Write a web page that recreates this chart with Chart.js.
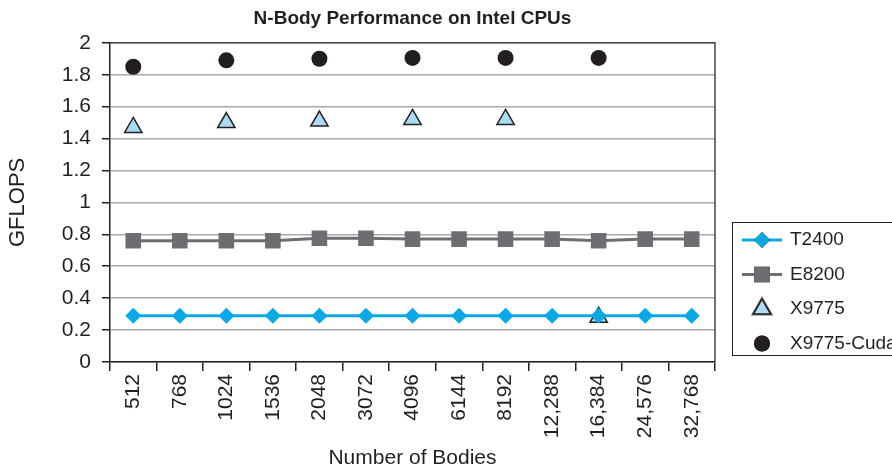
<!DOCTYPE html>
<html>
<head>
<meta charset="utf-8">
<script src="https://cdn.jsdelivr.net/npm/chart.js@4.4.0/dist/chart.umd.min.js"></script>
<style>
  html, body { margin: 0; padding: 0; background: #fff; }
  #wrap { width: 892px; height: 469px; }
</style>
</head>
<body>
<div id="wrap"><canvas id="chart" width="892" height="469"></canvas></div>
<script>
const bodies = ['512', '768', '1024', '1536', '2048', '3072', '4096', '6144', '8192', '12,288', '16,384', '24,576', '32,768'];
const t2400 = [0.29, 0.29, 0.29, 0.29, 0.29, 0.29, 0.29, 0.29, 0.29, 0.29, 0.29, 0.29, 0.29];
const e8200 = [0.76, 0.76, 0.76, 0.76, 0.775, 0.775, 0.77, 0.77, 0.77, 0.77, 0.76, 0.77, 0.77];
const x9775 = [1.47, null, 1.50, null, 1.51, null, 1.52, null, 1.52, null, 0.28, null, null];
const x9775Cuda = [1.85, null, 1.89, null, 1.90, null, 1.905, null, 1.905, null, 1.905, null, null];

const FONT = '"Liberation Sans", Arial, Helvetica, sans-serif';
const INK = '#231f20';

// boxed legend on the right, like the original
const boxLegend = {
  id: 'boxLegend',
  afterDraw(chart) {
    const ctx = chart.ctx;
    const area = chart.chartArea;
    const left = area.right + 17, top = 222, rowH = 34.5;
    ctx.save();
    ctx.strokeStyle = INK;
    ctx.lineWidth = 1;
    ctx.strokeRect(left + 0.5, top + 0.5, 220, 133);
    chart.data.datasets.forEach((ds, i) => {
      const y = top + 18 + i * rowH;
      const cx = left + 30;
      if (ds.showLine !== false) {
        ctx.strokeStyle = ds.borderColor;
        ctx.lineWidth = ds.borderWidth;
        ctx.beginPath();
        ctx.moveTo(left + 10, y);
        ctx.lineTo(left + 50, y);
        ctx.stroke();
      }
      Chart.helpers.drawPoint(ctx, {
        pointStyle: ds.pointStyle,
        radius: ds.pointRadius,
        borderWidth: ds.pointBorderWidth,
        rotation: 0
      }, cx, y);
      ctx.fillStyle = ds.pointBackgroundColor;
      ctx.strokeStyle = ds.pointBorderColor;
      ctx.lineWidth = ds.pointBorderWidth;
      ctx.fill();
      if (ds.pointBorderWidth > 0) ctx.stroke();
      ctx.fillStyle = INK;
      ctx.font = '19px ' + FONT;
      ctx.textBaseline = 'middle';
      ctx.textAlign = 'left';
      ctx.fillText(ds.label, left + 58, y);
    });
    // top and right frame of the plot area
    ctx.strokeStyle = '#444';
    ctx.lineWidth = 1.5;
    ctx.beginPath();
    ctx.moveTo(area.left, area.top);
    ctx.lineTo(area.right, area.top);
    ctx.lineTo(area.right, area.bottom);
    ctx.stroke();
    ctx.restore();
  }
};

new Chart(document.getElementById('chart'), {
  type: 'line',
  data: {
    labels: bodies,
    datasets: [
      {
        label: 'T2400', data: t2400,
        borderColor: '#0aa8e4', borderWidth: 3,
        pointStyle: 'rectRot', pointRadius: 8,
        pointBackgroundColor: '#0aa8e4', pointBorderColor: '#0aa8e4', pointBorderWidth: 0
      },
      {
        label: 'E8200', data: e8200,
        borderColor: '#6d6e71', borderWidth: 3,
        pointStyle: 'rect', pointRadius: 11,
        pointBackgroundColor: '#6d6e71', pointBorderColor: '#6d6e71', pointBorderWidth: 0
      },
      {
        label: 'X9775', data: x9775, showLine: false,
        borderColor: INK,
        pointStyle: 'triangle', pointRadius: 10,
        pointBackgroundColor: '#a8dcf3', pointBorderColor: INK, pointBorderWidth: 1.5
      },
      {
        label: 'X9775-Cuda', data: x9775Cuda, showLine: false,
        borderColor: INK,
        pointStyle: 'circle', pointRadius: 8,
        pointBackgroundColor: INK, pointBorderColor: INK, pointBorderWidth: 0
      }
    ]
  },
  options: {
    responsive: false,
    animation: false,
    spanGaps: false,
    layout: { padding: { left: 0, right: 177, top: 0, bottom: 0 } },
    plugins: {
      legend: { display: false },
      tooltip: { enabled: false },
      title: {
        display: true,
        fullSize: false,
        text: 'N-Body Performance on Intel CPUs',
        color: INK,
        font: { family: FONT, size: 19, weight: 'bold' },
        padding: { top: 7, bottom: 13 }
      }
    },
    scales: {
      x: {
        offset: true,
        grid: { offset: true, drawOnChartArea: false, drawTicks: true, tickLength: 9, tickColor: INK, lineWidth: 1.5 },
        border: { color: INK, width: 1.5 },
        ticks: {
          autoSkip: false, minRotation: 90, maxRotation: 90, padding: 3,
          color: INK, font: { family: FONT, size: 21 }
        },
        title: {
          display: true, text: 'Number of Bodies', color: INK,
          font: { family: FONT, size: 21 }, padding: { top: 0, bottom: -2 }
        },
        afterFit(scale) { scale.height = 107; }
      },
      y: {
        min: 0, max: 2,
        grid: { color: '#a7a9ac', lineWidth: 1.5, tickLength: 8, tickColor: INK },
        border: { color: INK, width: 1.5 },
        ticks: {
          stepSize: 0.2, padding: 11, color: INK, font: { family: FONT, size: 21 },
          callback: (v) => Math.round(v * 10) / 10
        },
        title: {
          display: true, text: 'GFLOPS', color: INK,
          font: { family: FONT, size: 22 }, padding: { top: 5, bottom: 0 }
        },
        afterFit(scale) { scale.width = 110; }
      }
    }
  },
  plugins: [boxLegend]
});
</script>
</body>
</html>
